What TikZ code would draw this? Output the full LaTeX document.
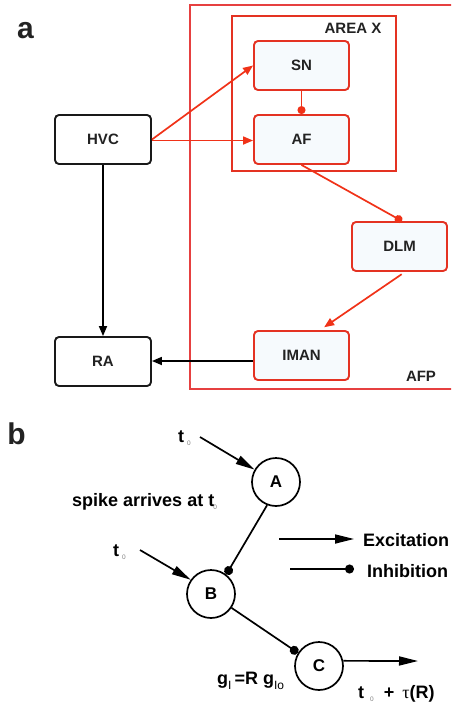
\documentclass[tikz,border=0pt]{standalone}
\usepackage{fontspec}
\setmainfont{Liberation Sans}
\newfontfamily\serifgreek{Liberation Serif}
\usetikzlibrary{arrows.meta}
\definecolor{redA}{RGB}{240,50,24}
\definecolor{redBox}{RGB}{228,50,34}
\definecolor{redFrame}{RGB}{230,64,64}
\definecolor{boxfill}{RGB}{246,250,253}
\definecolor{txt}{RGB}{34,34,34}
\newcommand\zsub{\raisebox{-3.5pt}{\fontsize{6.5}{6.5}\selectfont\mdseries\color{gray}0}}
\begin{document}
\begin{tikzpicture}[x=1pt,y=-1pt,
  abox/.style={draw=redBox, fill=boxfill, line width=1.9pt, rounded corners=4pt,
    minimum width=95pt, minimum height=49pt, inner sep=0pt,
    font=\fontsize{15}{15}\selectfont\bfseries, text=txt},
  bbox/.style={abox, draw=black!90, fill=white},
  redarrow/.style={draw=redA, line width=1.7pt, -{Triangle[length=10pt,width=8pt]}},
  reddot/.style={draw=redA, line width=1.7pt, -{Circle[length=8pt]}},
  blackarrow/.style={draw=black, line width=1.7pt, -{Triangle[length=10pt,width=8pt]}},
  neuron/.style={circle, draw, line width=1.7pt, minimum size=48pt, inner sep=0pt,
    font=\fontsize{17}{17}\selectfont\bfseries},
  exc/.style={line width=1.7pt, -{Triangle[length=19pt,width=9pt]}},
  inh/.style={line width=1.7pt, -{Circle[length=9pt]}},
  lbl/.style={font=\fontsize{18}{18}\selectfont\bfseries, inner sep=0pt},
  frmlbl/.style={font=\fontsize{15}{15}\selectfont\bfseries, inner sep=0pt, text=txt},
  fml/.style={font=\fontsize{18}{18}\selectfont\bfseries, inner sep=0pt},
  panel/.style={font=\fontsize{30}{30}\selectfont\bfseries, inner sep=0pt, text=txt}
]
\useasboundingbox (0,0) rectangle (451,702);
\clip (0,0) rectangle (451,702);

% ---------------- panel a ----------------
\node[panel] (pa) at (25.5,31) {a};

\draw[redFrame, line width=1.6pt] (190,5) rectangle (470,389);
\draw[redBox, line width=1.8pt] (232,16) rectangle (396,171);
\node[frmlbl] (areax) at (353,28) {AREA X};
\node[frmlbl] (afp) at (421,376) {AFP};

\node[abox] (SN) at (301.5,65.5) {SN};
\node[abox] (AF) at (301.5,139.5) {AF};
\node[bbox, minimum width=96pt] (HVC) at (103,139.5) {HVC};
\node[bbox, minimum width=96pt] (RA) at (103,361.5) {RA};
\node[abox] (DLM) at (399.5,246.5) {DLM};
\node[abox] (IMAN) at (301.5,355.5) {IMAN};

\draw[redarrow] (HVC.east) -- (SN.west);
\draw[redarrow] ([yshift=-1pt]HVC.east) -- ([yshift=-1pt]AF.west);
\draw[reddot] (SN.south) -- (AF.north);
\draw[reddot] (AF.south) -- ([xshift=2.5pt]DLM.north);
\draw[redarrow, shorten <=4pt, shorten >=5pt] ([xshift=5.5pt]DLM.south) -- ([xshift=18.5pt]IMAN.north);
\draw[blackarrow] ([yshift=0.5pt]IMAN.west |- RA.east) -- ([yshift=0.5pt]RA.east);
\draw[blackarrow] (HVC.south) -- (RA.north);

% ---------------- panel b ----------------
\node[panel] (pb) at (16.5,434) {b};

\node[neuron] (A) at (276,482) {A};
\node[neuron] (B) at (211,594) {B};
\node[neuron] (C) at (319,666) {C};

\node[lbl, anchor=base west] (t0a) at (178,442) {t\,\zsub};
\node[lbl, anchor=base west] (t0b) at (113,556) {t\,\zsub};
\node[lbl, anchor=base west] (spike) at (72,506) {spike arrives at t\hspace{-1pt}\zsub};

\coordinate (t0as) at (200,437);
\coordinate (t0bs) at (140,550);
\draw[exc] (t0as) -- (A.150);
\draw[exc] (t0bs) -- (B.145);
\draw[inh] (A.-111) -- (B.52);
\draw[inh] (B.-34) -- (C.148);
\coordinate (cout) at (418,661);
\draw[exc] (C.12) -- (cout);

\coordinate (exs) at (279,539);
\coordinate (exe) at (354,539);
\draw[exc] (exs) -- (exe);
\node[lbl, anchor=base west] (exc) at (363,546) {Excitation};
\coordinate (ins) at (290,569);
\coordinate (ine) at (354,569);
\draw[inh] (ins) -- (ine);
\node[lbl, anchor=base west] (inh) at (367,577) {Inhibition};

\node[fml, anchor=base west] (gform) at (217,684)
  {g\raisebox{-5pt}{\fontsize{12}{12}\selectfont\mdseries I}\,=R g\raisebox{-5pt}{\fontsize{12}{12}\selectfont\mdseries Io}};
\node[fml, anchor=base west] (tout) at (358,698)
  {t\,\,\zsub\ \ + \,{\serifgreek\mdseries τ}(R)};
\end{tikzpicture}
\end{document}
